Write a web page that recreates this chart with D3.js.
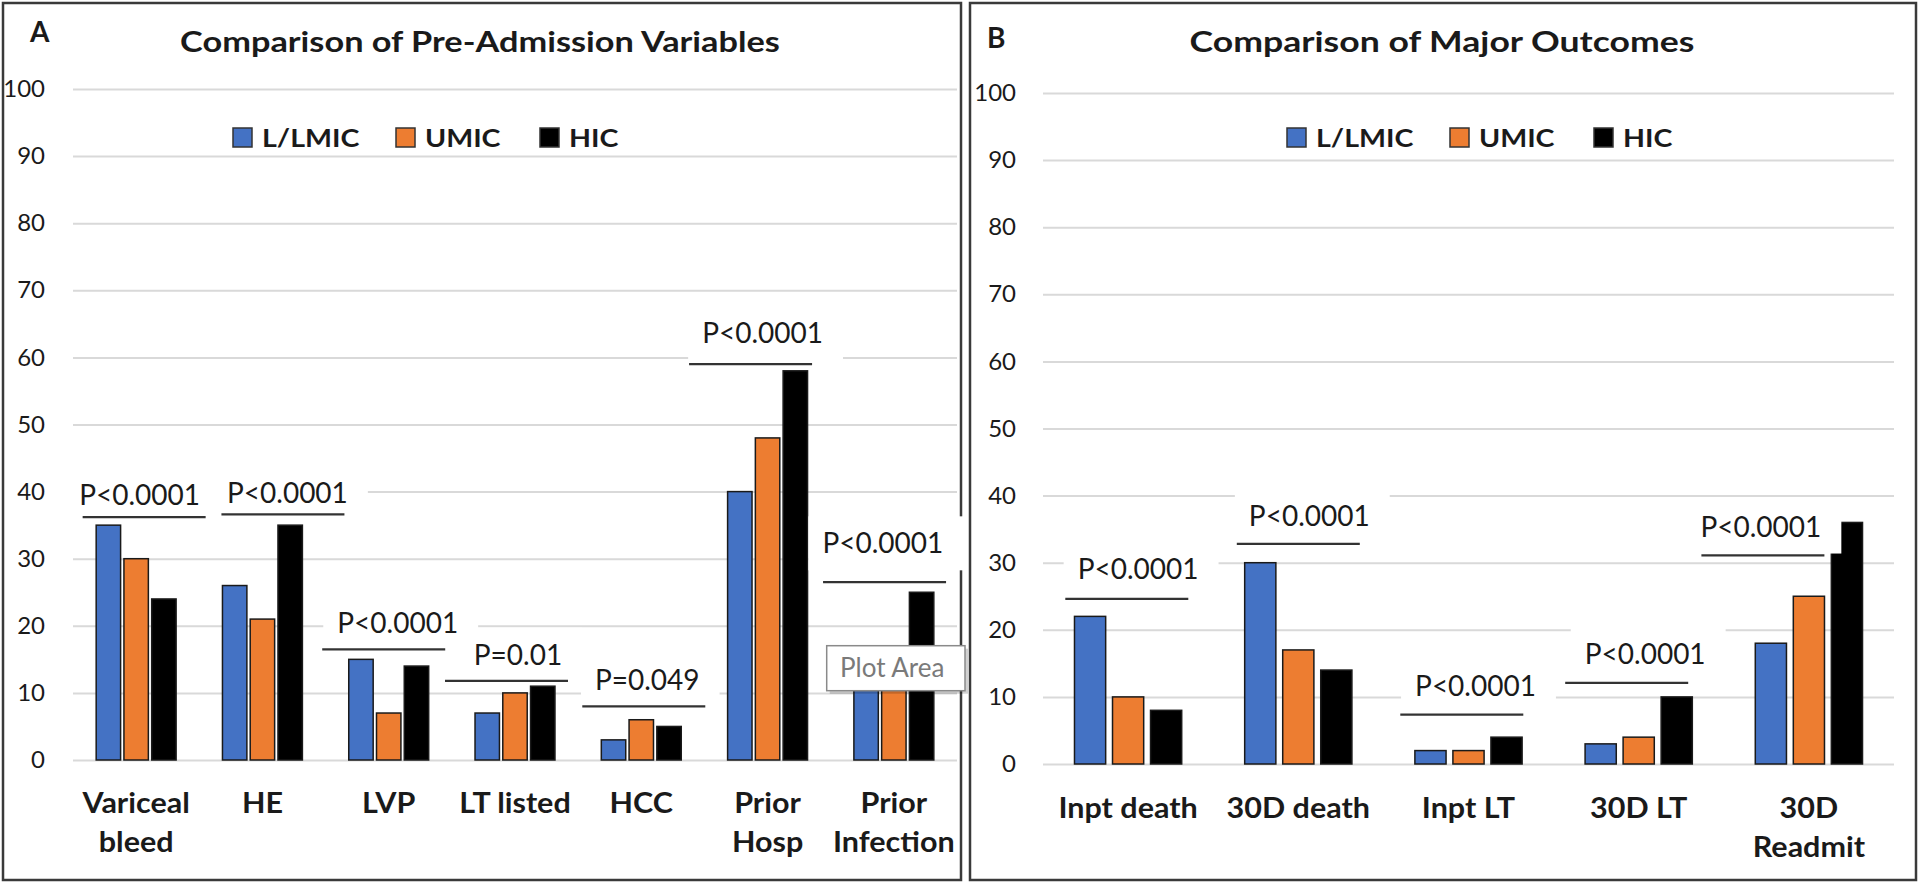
<!DOCTYPE html>
<html><head><meta charset="utf-8">
<script src="https://cdn.jsdelivr.net/npm/d3@7"></script>
<style>
html,body{margin:0;padding:0;background:#fff;}
svg{display:block;}
text{font-family:Lato,"Open Sans",sans-serif;}
</style></head><body>
<svg id="chart" width="1920" height="884"></svg>
<script>
// ---------- data ----------
const seriesNames = ["L/LMIC", "UMIC", "HIC"];
const seriesColors = ["#4472C4", "#ED7D31", "#000000"];
const yTicks = [0, 10, 20, 30, 40, 50, 60, 70, 80, 90, 100];

const categoriesA = [["Variceal", "bleed"], ["HE"], ["LVP"], ["LT listed"], ["HCC"], ["Prior", "Hosp"], ["Prior", "Infection"]];
const lmicA = [35, 26, 15, 7, 3, 40, 15];
const umicA = [30, 21, 7, 10, 6, 48, 16];
const hicA  = [24, 35, 14, 11, 5, 58, 25];
const pLabelsA = ["P<0.0001", "P<0.0001", "P<0.0001", "P=0.01", "P=0.049", "P<0.0001", "P<0.0001"];
const pLineA = [36.2, 36.6, 16.5, 11.8, 8.0, 59.0, 26.5];
const pTextA = [38.0, 38.3, 18.9, 14.2, 10.4, 62.1, 30.8];

const categoriesB = [["Inpt death"], ["30D death"], ["Inpt LT"], ["30D LT"], ["30D", "Readmit"]];
const lmicB = [22, 30, 2, 3, 18];
const umicB = [10, 17, 2, 4, 25];
const hicB  = [8, 14, 4, 10, 36];
const pLabelsB = ["P<0.0001", "P<0.0001", "P<0.0001", "P<0.0001", "P<0.0001"];
const pLineB = [24.6, 32.8, 7.35, 12.1, 31.1];
const pTextB = [27.5, 35.4, 10.1, 14.9, 33.9];

// ---------- layout ----------
const panels = [
  {letter: "A", title: "Comparison of Pre-Admission Variables", categories: categoriesA,
   values: [lmicA, umicA, hicA], pLabels: pLabelsA, pLine: pLineA, pText: pTextA,
   lineDx: [8, 20.5, -5, -8.5, 2.5, -17, -9.3], textDx: [3.5, 25, 9, 3, 6, -5, -11],
   border: [3, 3, 961, 880], plotL: 73, plotR: 957, y0: 760, y100: 89, tickRight: 45,
   letterX: 30, letterY: 42, titleX: 480, titleY: 52, titleW: 600, legendX: 233, catY: 813,
   groupFrac: 0.633, barPad: 0.12},
  {letter: "B", title: "Comparison of Major Outcomes", categories: categoriesB,
   values: [lmicB, umicB, hicB], pLabels: pLabelsB, pLine: pLineB, pText: pTextB,
   lineDx: [-1.3, 0, -6.7, -12, -46], textDx: [10, 11, 7, 6.5, -48],
   border: [970, 3, 1916, 880], plotL: 1043, plotR: 1894, y0: 764, y100: 93, tickRight: 1016,
   letterX: 987, letterY: 48, titleX: 1442, titleY: 52, titleW: 505, legendX: 1287, catY: 818,
   groupFrac: 0.63, barPad: 0.18}
];

const svg = d3.select("#chart");
const textColor = "#1a1a1a";

// borders
panels.forEach(p => {
  const [x1, y1, x2, y2] = p.border;
  svg.append("rect").attr("x", x1).attr("y", y1).attr("width", x2 - x1).attr("height", y2 - y1)
    .attr("fill", "none").attr("stroke", "#3a3a3a").attr("stroke-width", 2.5);
});

panels.forEach(p => {
  const g = svg.append("g");
  const keys = p.categories.map(c => c.join(" "));
  const x0 = d3.scaleBand().domain(keys).range([p.plotL, p.plotR]).padding(0);
  const bw = x0.bandwidth();
  const groupW = bw * p.groupFrac;
  const x1 = d3.scaleBand().domain(seriesNames).range([0, groupW]).paddingInner(p.barPad);
  const y = d3.scaleLinear().domain([0, 100]).range([p.y0, p.y100]);

  // gridlines
  const grid = g.append("g").attr("transform", `translate(${p.plotL},0)`)
    .call(d3.axisLeft(y).tickValues(yTicks).tickSize(-(p.plotR - p.plotL)).tickFormat(""));
  grid.select(".domain").remove();
  grid.selectAll("line").attr("stroke", "#d9d9d9").attr("stroke-width", 2);

  // y tick labels
  const ya = g.append("g").attr("transform", `translate(${p.tickRight},0)`)
    .call(d3.axisLeft(y).tickValues(yTicks).tickSize(0).tickPadding(0));
  ya.select(".domain").remove();
  ya.attr("font-family", "Lato").attr("font-size", 24);
  ya.selectAll("text").attr("fill", textColor);

  // bars
  seriesNames.forEach((s, si) => {
    g.append("g").selectAll("rect").data(p.values[si]).join("rect")
      .attr("x", (v, i) => x0(keys[i]) + (bw - groupW) / 2 + x1(s))
      .attr("y", v => y(v))
      .attr("width", x1.bandwidth())
      .attr("height", v => y(0) - y(v))
      .attr("fill", seriesColors[si])
      .attr("stroke", "#1a1a1a").attr("stroke-width", 1.5);
  });

  // category labels (slightly widened, like the reference's Calibri bold)
  const xa = g.append("g").attr("transform", `translate(0,${p.catY})`)
    .call(d3.axisBottom(x0).tickSize(0).tickPadding(0));
  xa.select(".domain").remove();
  xa.attr("font-family", "Lato").attr("font-size", 28).attr("font-weight", "bold");
  xa.selectAll(".tick text").attr("dy", null).attr("y", 0).attr("fill", textColor)
    .attr("transform", "scale(1.09,1)").text(null)
    .each(function (d, i) {
      p.categories[i].forEach((ln, j) => {
        d3.select(this).append("tspan").attr("x", 0).attr("y", j * 39).text(ln);
      });
    });

  // p-value annotations
  const boxes = g.append("g"), lines = g.append("g"), texts = g.append("g");
  p.pLabels.forEach((lab, i) => {
    const cx = x0(keys[i]) + bw / 2;
    const tx = cx + p.textDx[i];
    const ty = y(p.pText[i]);
    const t = texts.append("text").attr("x", tx).attr("y", ty).attr("text-anchor", "middle")
      .attr("font-size", 28).attr("fill", textColor).text(lab);
    const w = t.node().getComputedTextLength();
    boxes.append("rect").attr("x", tx - w / 2 - 14).attr("y", ty - 20 - 17)
      .attr("width", w + 34).attr("height", 20 + 34).attr("fill", "#fff");
    const lx = cx + p.lineDx[i];
    lines.append("line").attr("x1", lx - 61.5).attr("x2", lx + 61.5)
      .attr("y1", y(p.pLine[i])).attr("y2", y(p.pLine[i]))
      .attr("stroke", "#333").attr("stroke-width", 2.2);
  });

  // letter & title
  g.append("text").attr("x", p.letterX).attr("y", p.letterY).attr("font-size", 28)
    .attr("font-weight", "bold").attr("fill", textColor).text(p.letter);
  const title = g.append("text").attr("text-anchor", "middle")
    .attr("font-size", 29).attr("font-weight", "bold").attr("fill", textColor).text(p.title);
  const tw = title.node().getComputedTextLength();
  title.attr("transform", `translate(${p.titleX},${p.titleY}) scale(${p.titleW / tw},1)`);

  // legend
  const legOff = [0, 163, 307];
  seriesNames.forEach((s, i) => {
    const lx = p.legendX + legOff[i];
    g.append("rect").attr("x", lx).attr("y", 128).attr("width", 19).attr("height", 19)
      .attr("fill", seriesColors[i]).attr("stroke", "#333").attr("stroke-width", 1.5);
    g.append("text").attr("transform", `translate(${lx + 29},147) scale(1.19,1)`)
      .attr("font-size", 24).attr("font-weight", "bold").attr("fill", textColor).text(s);
  });
});

// "Plot Area" hover tag present in the reference screenshot
const tip = svg.append("g");
tip.append("rect").attr("x", 829.7).attr("y", 648.7).attr("width", 138.3).attr("height", 45)
  .attr("fill", "rgba(0,0,0,0.18)");
tip.append("rect").attr("x", 826.7).attr("y", 645.7).attr("width", 138.3).attr("height", 45)
  .attr("fill", "#fff").attr("stroke", "#8a8a8a").attr("stroke-width", 1.5);
tip.append("text").attr("x", 840).attr("y", 676.5).attr("font-size", 26).attr("fill", "#7a7a7a")
  .text("Plot Area");
</script>
</body></html>
